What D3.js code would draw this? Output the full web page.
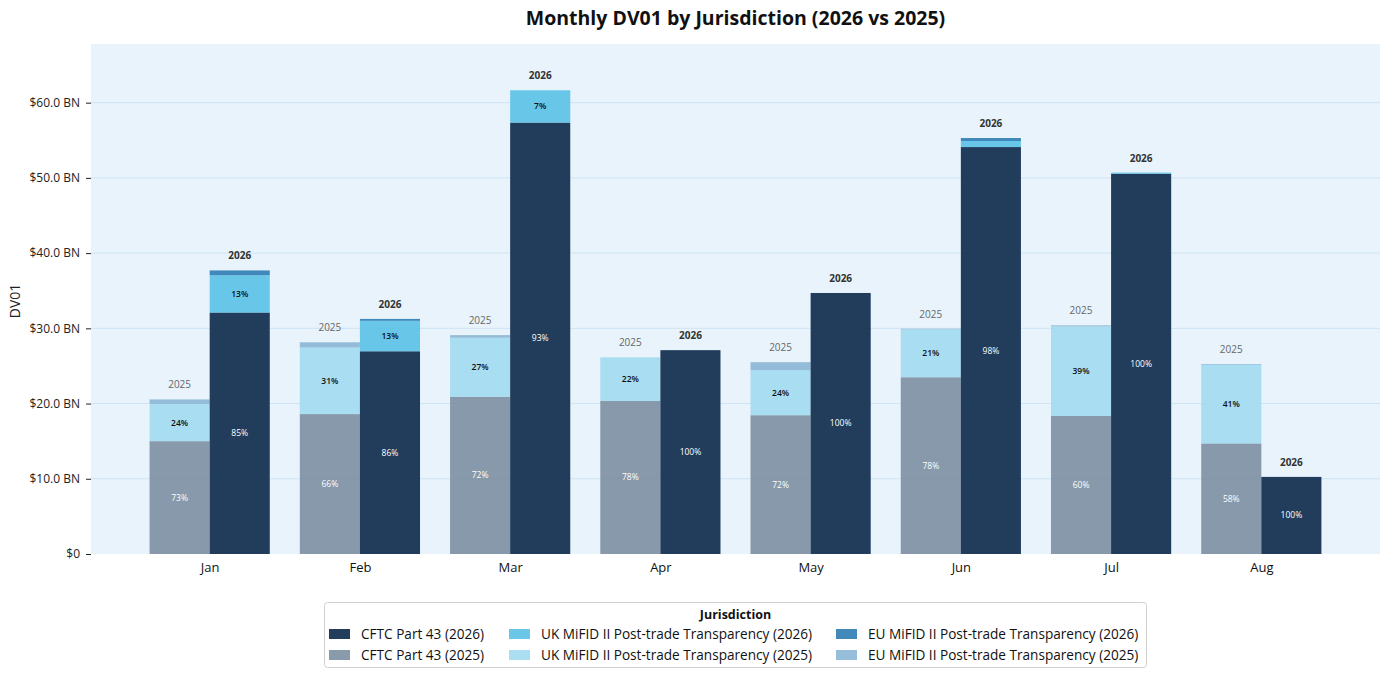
<!DOCTYPE html>
<html>
<head>
<meta charset="utf-8">
<script src="https://cdn.jsdelivr.net/npm/d3@7"></script>
<style>
  body { margin: 0; background: #fff; }
  svg text { font-family: "Open Sans", Lato, sans-serif; }
</style>
</head>
<body>
<div id="chart"></div>
<script>
// Monthly DV01 by jurisdiction, values in $ BN
const months = ["Jan", "Feb", "Mar", "Apr", "May", "Jun", "Jul", "Aug"];

const cftc2026 = [32.1, 26.95, 57.35, 27.1, 34.7, 54.1, 50.55, 10.25];
const uk2026   = [4.95, 4.05, 4.3, 0, 0, 0.8, 0.15, 0];
const eu2026   = [0.65, 0.25, 0, 0, 0, 0.4, 0, 0];

const cftc2025 = [15.0, 18.6, 20.9, 20.35, 18.45, 23.5, 18.35, 14.7];
const uk2025   = [4.95, 8.85, 7.85, 5.8, 6.0, 6.35, 11.9, 10.45];
const eu2025   = [0.6, 0.7, 0.35, 0, 1.05, 0.1, 0.15, 0.1];

const yTicks = [0, 10, 20, 30, 40, 50, 60];
const yMax = 67.8;

const series2026 = [
  { name: "CFTC Part 43 (2026)", values: cftc2026, color: "#0b2949", text: "#ffffff" },
  { name: "UK MiFID II Post-trade Transparency (2026)", values: uk2026, color: "#5ac1e6", text: "#111111" },
  { name: "EU MiFID II Post-trade Transparency (2026)", values: eu2026, color: "#2c7cb4", text: "#111111" }
];
const series2025 = [
  { name: "CFTC Part 43 (2025)", values: cftc2025, color: "#7c8fa1", text: "#ffffff" },
  { name: "UK MiFID II Post-trade Transparency (2025)", values: uk2025, color: "#a2daf0", text: "#111111" },
  { name: "EU MiFID II Post-trade Transparency (2025)", values: eu2025, color: "#8bb6d5", text: "#111111" }
];

const width = 1389, height = 677;
const margin = { top: 44, right: 9, bottom: 123, left: 91 };
const plotW = width - margin.left - margin.right;
const plotH = height - margin.top - margin.bottom;
const barOpacity = 0.9;

const svg = d3.select("#chart").append("svg")
  .attr("width", width)
  .attr("height", height);

svg.append("text")
  .attr("x", margin.left + plotW / 2)
  .attr("y", 25)
  .attr("text-anchor", "middle")
  .attr("font-size", 19.5)
  .attr("font-weight", 700)
  .attr("fill", "#111")
  .text("Monthly DV01 by Jurisdiction (2026 vs 2025)");

const g = svg.append("g").attr("transform", `translate(${margin.left},${margin.top})`);

g.append("rect")
  .attr("width", plotW)
  .attr("height", plotH)
  .attr("fill", "#e8f3fc");

const x = d3.scalePoint().domain(months).range([0, plotW]).padding(0.79);
const step = x.step();
const barW = step * 0.4;

const y = d3.scaleLinear().domain([0, yMax]).range([plotH, 0]);

// gridlines
g.selectAll("line.grid")
  .data(yTicks.filter((t) => t > 0))
  .enter()
  .append("line")
  .attr("class", "grid")
  .attr("x1", 0)
  .attr("x2", plotW)
  .attr("y1", (d) => y(d))
  .attr("y2", (d) => y(d))
  .attr("stroke", "#cfe4f4")
  .attr("stroke-width", 1);

// y axis
const yAxis = d3.axisLeft(y)
  .tickValues(yTicks)
  .tickSize(5)
  .tickPadding(6)
  .tickFormat((d) => (d === 0 ? "$0" : `$${d.toFixed(1)} BN`));

const yAxisG = g.append("g").call(yAxis);
yAxisG.select(".domain").remove();
yAxisG.selectAll("line").attr("stroke", "#222");
yAxisG.selectAll("text").attr("font-size", 12).attr("fill", "#222");

svg.append("text")
  .attr("transform", `translate(20,${margin.top + plotH / 2 + 2}) rotate(-90)`)
  .attr("text-anchor", "middle")
  .attr("font-size", 14)
  .attr("fill", "#222")
  .text("DV01");

// x axis labels
const xAxis = d3.axisBottom(x).tickSize(0).tickPadding(9);
const xAxisG = g.append("g").attr("transform", `translate(0,${plotH})`).call(xAxis);
xAxisG.select(".domain").remove();
xAxisG.selectAll("text").attr("font-size", 13).attr("fill", "#111");

function drawStack(series, offset, yearLabel, labelStyle) {
  const layer = g.append("g");
  months.forEach((m, i) => {
    const total = d3.sum(series, (s) => s.values[i]);
    const x0 = x(m) + offset;
    let base = 0;
    series.forEach((s) => {
      const v = s.values[i];
      if (v <= 0) return;
      layer.append("rect")
        .attr("x", x0)
        .attr("y", y(base + v))
        .attr("width", barW)
        .attr("height", y(base) - y(base + v))
        .attr("fill", s.color)
        .attr("fill-opacity", barOpacity);
      const pct = v / total;
      if (pct >= 0.05) {
        layer.append("text")
          .attr("x", x0 + barW / 2)
          .attr("y", y(base + v / 2))
          .attr("dy", "0.35em")
          .attr("text-anchor", "middle")
          .attr("font-size", 8.5)
          .attr("font-weight", s.text === "#ffffff" ? 400 : 600)
          .attr("fill", s.text)
          .text(`${Math.round(pct * 100)}%`);
      }
      base += v;
    });
    layer.append("text")
      .attr("x", x0 + barW / 2)
      .attr("y", y(total) - 11)
      .attr("text-anchor", "middle")
      .attr("font-size", 10)
      .attr("font-weight", labelStyle.weight)
      .attr("fill", labelStyle.color)
      .text(yearLabel);
  });
}

drawStack(series2025, -barW, "2025", { weight: 400, color: "#666" });
drawStack(series2026, 0, "2026", { weight: 700, color: "#333" });

// legend
const legendItems = [
  [series2026[0], series2025[0]],
  [series2026[1], series2025[1]],
  [series2026[2], series2025[2]]
];
const legendX = [329, 509, 836];
const legend = svg.append("g");
legend.append("rect")
  .attr("x", 324.5)
  .attr("y", 602.5)
  .attr("width", 822)
  .attr("height", 65)
  .attr("rx", 3)
  .attr("fill", "#fff")
  .attr("stroke", "#d0d0d0");
legend.append("text")
  .attr("x", 735.5)
  .attr("y", 619)
  .attr("text-anchor", "middle")
  .attr("font-size", 12.5)
  .attr("font-weight", 700)
  .attr("fill", "#111")
  .text("Jurisdiction");

legendItems.forEach((col, ci) => {
  col.forEach((s, ri) => {
    const cy = 634 + ri * 21;
    legend.append("rect")
      .attr("x", legendX[ci])
      .attr("y", cy - 5)
      .attr("width", 21)
      .attr("height", 10)
      .attr("fill", s.color)
      .attr("fill-opacity", barOpacity);
    legend.append("text")
      .attr("x", legendX[ci] + 32)
      .attr("y", cy)
      .attr("dy", "0.35em")
      .attr("font-size", 13.6)
      .attr("fill", "#111")
      .text(s.name);
  });
});
</script>
</body>
</html>
